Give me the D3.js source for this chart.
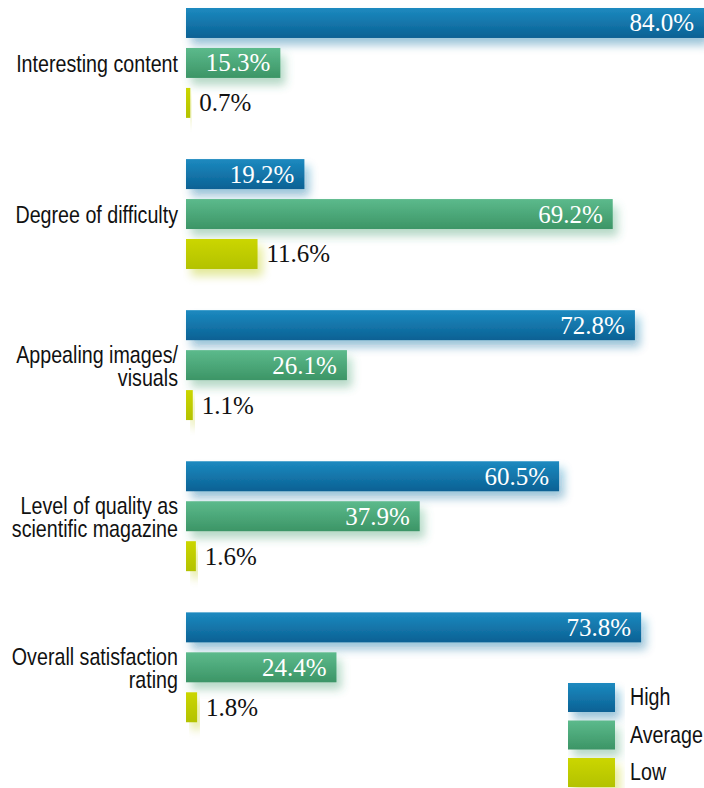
<!DOCTYPE html>
<html>
<head>
<meta charset="utf-8">
<script src="https://cdn.jsdelivr.net/npm/d3@7"></script>
<style>
  body { margin: 0; background: #fff; }
  .cat { font-family: "Liberation Sans", Arial, sans-serif; font-size: 24px; fill: #111; }
  .val { font-family: "Liberation Serif", "DejaVu Serif", serif; font-size: 25px; }
</style>
</head>
<body>
<svg width="704" height="788"></svg>
<script>
// chart data
const categories = [
  "Interesting content",
  "Degree of difficulty",
  "Appealing images/\nvisuals",
  "Level of quality as\nscientific magazine",
  "Overall satisfaction\nrating"
];
const seriesNames = ["High", "Average", "Low"];
const highValues = [84.0, 19.2, 72.8, 60.5, 73.8];
const averageValues = [15.3, 69.2, 26.1, 37.9, 24.4];
const lowValues = [0.7, 11.6, 1.1, 1.6, 1.8];

const svg = d3.select("svg");
const narrow = 0.82; // squeeze the sans text to look condensed
const colors = {
  High: ["#1c8ac0", "#0b6194"],
  Average: ["#5cba8c", "#3c9566"],
  Low: ["#cbd600", "#b3c200"]
};

const defs = svg.append("defs");
seriesNames.forEach(s => {
  const g = defs.append("linearGradient")
    .attr("id", "grad-" + s)
    .attr("x1", 0).attr("y1", 0).attr("x2", 0).attr("y2", 1);
  g.append("stop").attr("offset", "0%").attr("stop-color", colors[s][0]);
  g.append("stop").attr("offset", "100%").attr("stop-color", colors[s][1]);
});

// soft coloured glow below/right of the bars
const f = defs.append("filter").attr("id", "glow")
  .attr("x", "-10%").attr("y", "-30%").attr("width", "130%").attr("height", "190%");
f.append("feGaussianBlur").attr("in", "SourceGraphic").attr("stdDeviation", 5).attr("result", "b");
f.append("feOffset").attr("in", "b").attr("dx", 5).attr("dy", 7).attr("result", "o");
f.append("feComponentTransfer").attr("in", "o").attr("result", "t")
  .append("feFuncA").attr("type", "linear").attr("slope", 0.4);
const m = f.append("feMerge");
m.append("feMergeNode").attr("in", "t");
m.append("feMergeNode").attr("in", "SourceGraphic");

const rows = categories.map((c, i) => ({
  cat: c,
  values: [
    { s: "High", v: highValues[i] },
    { s: "Average", v: averageValues[i] },
    { s: "Low", v: lowValues[i] }
  ]
}));

const x = d3.scaleLinear().domain([0, 84]).range([186, 704]);

const y0 = d3.scaleBand()
  .domain(categories)
  .range([8, 722.25])
  .paddingInner(0.2727);

const y1 = d3.scaleBand()
  .domain(seriesNames)
  .range([0, y0.bandwidth()])
  .paddingInner(0.25);

const group = svg.selectAll("g.group")
  .data(rows)
  .enter()
  .append("g")
  .attr("class", "group")
  .attr("transform", d => `translate(0, ${y0(d.cat)})`);

group.selectAll("rect")
  .data(d => d.values)
  .enter()
  .append("rect")
  .attr("x", x(0))
  .attr("y", d => y1(d.s))
  .attr("width", d => x(d.v) - x(0))
  .attr("height", y1.bandwidth())
  .attr("fill", d => `url(#grad-${d.s})`)
  .attr("filter", "url(#glow)");

group.selectAll("text.val")
  .data(d => d.values)
  .enter()
  .append("text")
  .attr("class", "val")
  .attr("y", d => y1(d.s) + y1.bandwidth() / 2 + 8.5)
  .attr("x", d => d.v >= 15 ? x(d.v) - 10 : x(d.v) + 9)
  .attr("text-anchor", d => d.v >= 15 ? "end" : "start")
  .attr("fill", d => d.v >= 15 ? "#fff" : "#111")
  .text(d => d.v.toFixed(1) + "%");

// category labels, centred on the Average bar
group.each(function(d) {
  const lines = d.cat.split("\n");
  const center = y1("Average") + y1.bandwidth() / 2;
  const t = d3.select(this).append("text")
    .attr("class", "cat")
    .attr("text-anchor", "end")
    .attr("transform", `translate(178, 0) scale(${narrow}, 1)`);
  lines.forEach((ln, j) => {
    t.append("tspan")
      .attr("x", 0)
      .attr("y", center + 9 - 11 * (lines.length - 1) + j * 23)
      .text(ln);
  });
});

// legend
const legend = svg.append("g").attr("transform", "translate(568, 683)");
const li = legend.selectAll("g")
  .data(seriesNames)
  .enter()
  .append("g")
  .attr("transform", (d, i) => `translate(0, ${i * 37.5})`);
li.append("rect")
  .attr("width", 47)
  .attr("height", 29)
  .attr("fill", d => `url(#grad-${d})`)
  .attr("filter", "url(#glow)");
li.append("text")
  .attr("class", "cat")
  .attr("transform", `translate(62, 22) scale(${narrow}, 1)`)
  .text(d => d);
</script>
</body>
</html>
